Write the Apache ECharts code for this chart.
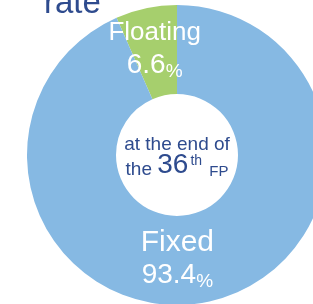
<!DOCTYPE html>
<html>
<head>
<meta charset="utf-8">
<script src="https://cdn.jsdelivr.net/npm/echarts@6/dist/echarts.min.js"></script>
<style>
  html, body { margin: 0; padding: 0; background: #fff; }
  #chart { width: 313px; height: 304px; }
</style>
</head>
<body>
<div id="chart"></div>
<script>
// shares at the end of the 36th FP
let names = ['Floating', 'Fixed'];
let shares = [6.6, 93.4];
let colors = ['#a6cf6d', '#86b9e3'];

let font = '"Liberation Sans", Arial, sans-serif';
let navy = '#2e4b8e';

function tok(size, extra){
    return Object.assign({ fontFamily: font, fontSize: size, fontWeight: 'normal', color: navy }, extra || {});
}

function sliceRich(nameSize){
    return {
        n: { fontFamily: font, fontSize: nameSize, color: '#fff', lineHeight: 32 },
        v: { fontFamily: font, fontSize: 28, color: '#fff', lineHeight: 32 },
        p: { fontFamily: font, fontSize: 19, color: '#fff', lineHeight: 32, verticalAlign: 'bottom' }
    };
}

let pieData = names.map(function(n, i){
    return {
        name: n,
        value: shares[i],
        itemStyle: { color: colors[i] },
        label: { rich: sliceRich(i === 0 ? 26 : 30) }
    };
});

let myChart = echarts.init(document.getElementById('chart'));

let option = {
    backgroundColor: '#fff',
    animation: false,
    title: [
        {
            text: 'rate',
            left: 44,
            top: -13,
            padding: 0,
            textStyle: { fontFamily: font, fontSize: 33, fontWeight: 'normal', color: navy }
        },
        {
            // center caption
            text: '{a|at the end of}\n{b|the }{n|36}{s|th}{c| FP}',
            left: 177,
            top: 134,
            textAlign: 'center',
            padding: 0,
            textStyle: {
                fontWeight: 'normal',
                rich: {
                    a: tok(19, { lineHeight: 20, verticalAlign: 'bottom' }),
                    b: tok(19, { lineHeight: 25, verticalAlign: 'bottom' }),
                    n: tok(28, { lineHeight: 25, verticalAlign: 'bottom', padding: [0, 2, 0, 0] }),
                    s: tok(14, { lineHeight: 25, verticalAlign: 'top', padding: [0, 3, 0, 0] }),
                    c: tok(15, { lineHeight: 25, verticalAlign: 'bottom' })
                }
            }
        }
    ],
    series: [
        {
            type: 'pie',
            center: [177, 155],
            radius: [61, 150],
            startAngle: 90,
            clockwise: false,
            silent: true,
            label: {
                position: 'inside',
                formatter: function(p){
                    return '{n|' + p.name + '}\n{v|' + p.value.toFixed(1) + '}{p|%}';
                },
                rich: sliceRich(26)
            },
            labelLayout: function(params){
                if (params.dataIndex === 0) return { dx: 0 };
                return { dx: -22, dy: -2 };
            },
            labelLine: { show: false },
            data: pieData
        }
    ]
};

myChart.setOption(option);
</script>
</body>
</html>
